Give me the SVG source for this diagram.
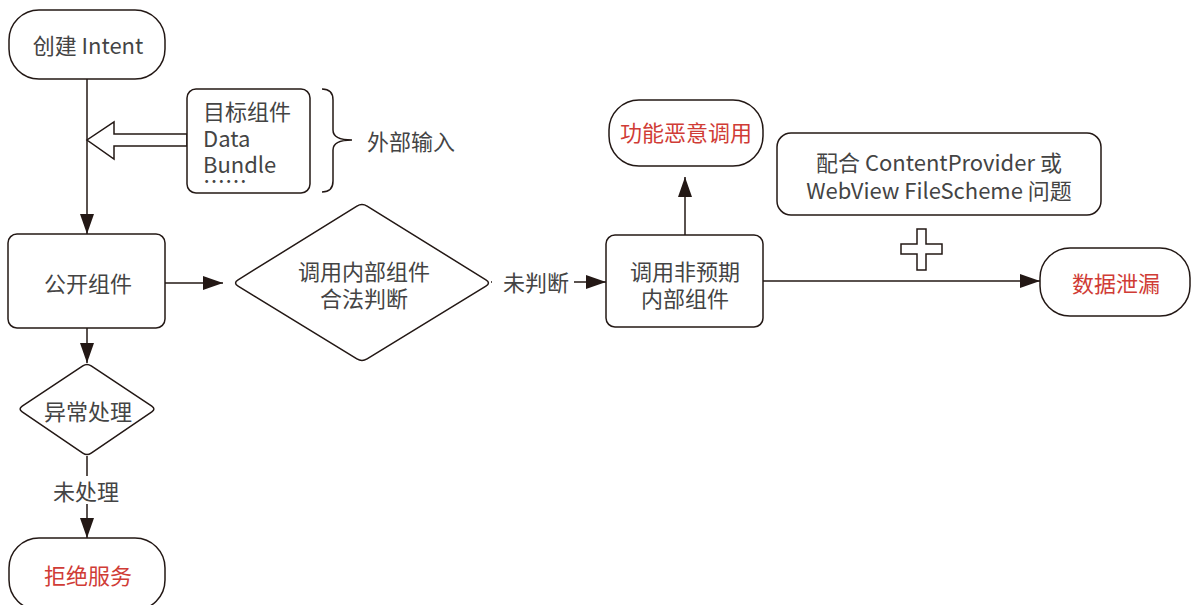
<svg xmlns="http://www.w3.org/2000/svg" width="1193" height="605" viewBox="0 0 1193 605">
<style>
.sh{fill:#fff;stroke:#231815;stroke-width:1.5}
.ln{fill:none;stroke:#231815;stroke-width:1.5}
.t{font-family:"Noto Sans CJK SC","Noto Sans",sans-serif;font-size:22px;fill:#444;dominant-baseline:central}
.c{text-anchor:middle}
.r{fill:#d03c36}
</style>
<defs>
<marker id="ah" markerUnits="userSpaceOnUse" markerWidth="20" markerHeight="14" refX="20" refY="7" orient="auto">
<path d="M0,0 L20,7 L0,14 z" fill="#231815"/>
</marker>
</defs>
<rect width="1193" height="605" fill="#fff"/>
<g id="connectors">
<line class="ln" x1="87" y1="79" x2="87" y2="234" marker-end="url(#ah)"/>
<line class="ln" x1="165" y1="283" x2="223" y2="283" marker-end="url(#ah)"/>
<line class="ln" x1="87" y1="328" x2="87" y2="363" marker-end="url(#ah)"/>
<line class="ln" x1="87" y1="456" x2="87" y2="538" marker-end="url(#ah)"/>
<rect x="50" y="476" width="74" height="28" fill="#fff"/>
<text class="t c" x="86" y="490">未处理</text>
<line class="ln" x1="491" y1="282" x2="606" y2="282" marker-end="url(#ah)"/>
<rect x="492" y="268" width="82" height="28" fill="#fff"/>
<text class="t" x="503" y="281">未判断</text>
<line class="ln" x1="685" y1="235" x2="685" y2="177" marker-end="url(#ah)"/>
<line class="ln" x1="763" y1="281" x2="1040" y2="281" marker-end="url(#ah)"/>
<polygon class="sh" points="187,134 114,134 114,122 87,140 114,159 114,146 187,146"/>
</g>
<g id="create-intent">
<rect class="sh" x="9" y="10" width="156" height="69" rx="30"/>
<text class="t c" x="88" y="44">创建 Intent</text>
</g>
<g id="input-box">
<rect class="sh" x="187" y="89" width="123" height="104" rx="9"/>
<text class="t" x="203" y="110">目标组件</text>
<text class="t" x="203" y="137">Data</text>
<text class="t" x="203" y="163">Bundle</text>
<text class="t" x="203" y="179">……</text>
</g>
<g id="external-input">
<path class="ln" d="M322,89 Q333,89 333,100 L333,130 Q333,140 352,140 Q333,140 333,150 L333,181 Q333,192 322,192"/>
<text class="t" x="367" y="140">外部输入</text>
</g>
<g id="public-component">
<rect class="sh" x="8" y="234" width="157" height="94" rx="9"/>
<text class="t c" x="88" y="282">公开组件</text>
</g>
<g id="legal-check">
<path class="sh" d="M238.1,279.8 L356.9,206.2 Q362,203 367.1,206.2 L485.9,279.8 Q491,283 485.9,286.2 L367.1,358.8 Q362,362 356.9,358.8 L238.1,286.2 Q233,283 238.1,279.8 Z"/>
<text class="t c" x="364" y="270">调用内部组件</text>
<text class="t c" x="364" y="297">合法判断</text>
</g>
<g id="exception">
<path class="sh" d="M22.2,406.2 L82.8,365.8 Q87,363 91.2,365.8 L151.8,406.2 Q156,409 151.8,411.8 L91.2,453.2 Q87,456 82.8,453.2 L22.2,411.8 Q18,409 22.2,406.2 Z"/>
<text class="t c" x="88" y="410">异常处理</text>
</g>
<g id="deny-service">
<rect class="sh" x="9" y="538" width="156" height="72" rx="30"/>
<text class="t c r" x="88" y="574">拒绝服务</text>
</g>
<g id="unexpected-call">
<rect class="sh" x="606" y="235" width="157" height="92" rx="9"/>
<text class="t c" x="685" y="270">调用非预期</text>
<text class="t c" x="685" y="297">内部组件</text>
</g>
<g id="malicious-call">
<rect class="sh" x="609" y="100" width="154" height="66" rx="30"/>
<text class="t c r" x="686" y="131">功能恶意调用</text>
</g>
<g id="content-provider">
<rect class="sh" x="777" y="133" width="324" height="82" rx="14"/>
<text class="t c" x="939" y="161">配合 ContentProvider 或</text>
<text class="t c" x="939" y="189">WebView FileScheme 问题</text>
</g>
<g id="plus">
<path class="sh" d="M917,229 H926 V244 H942 V254 H926 V270 H917 V254 H901 V244 H917 Z"/>
</g>
<g id="data-leak">
<rect class="sh" x="1040" y="248" width="150" height="68" rx="30"/>
<text class="t c r" x="1116" y="282">数据泄漏</text>
</g>
</svg>
